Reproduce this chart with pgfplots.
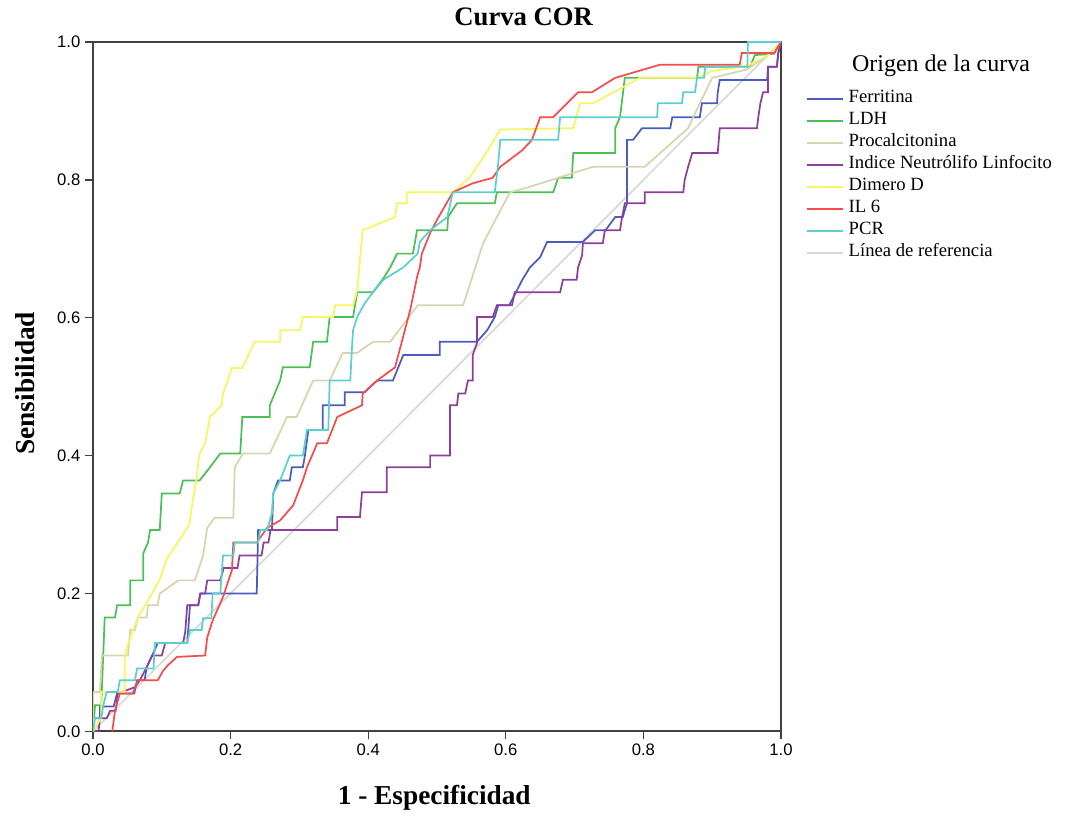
\documentclass[border=0pt]{standalone}
\usepackage{fontspec}
\setmainfont{Liberation Serif}
\newfontfamily\ticksans{Liberation Sans}
\usepackage{pgfplots}
\pgfplotsset{compat=1.18}
\usetikzlibrary{calc}

\definecolor{cFer}{HTML}{4A5CBF}
\definecolor{cLDH}{HTML}{4CBF56}
\definecolor{cPCT}{HTML}{D8D4AE}
\definecolor{cINL}{HTML}{8E3F9C}
\definecolor{cDim}{HTML}{F7F560}
\definecolor{cIL}{HTML}{F84C4C}
\definecolor{cPCR}{HTML}{5CCFCF}
\definecolor{cRef}{HTML}{D9D9D9}

\begin{document}
\begin{tikzpicture}
\begin{axis}[
    name=ax,
    width=516pt, height=517pt,
    scale only axis,
    xmin=0, xmax=1, ymin=0, ymax=1,
    xtick={0,0.2,0.4,0.6,0.8,1},
    ytick={0,0.2,0.4,0.6,0.8,1},
    xticklabel style={/pgf/number format/.cd,fixed,fixed zerofill,precision=1},
    yticklabel style={/pgf/number format/.cd,fixed,fixed zerofill,precision=1},
    /pgf/number format/assume math mode=true,
    ticklabel style={font=\ticksans\fontsize{12.5}{14}\selectfont},
    tick align=outside,
    tick pos=left,
    major tick length=6pt,
    tick style={line width=1pt, color=black!75},
    axis line style={line width=1.4pt, color=black!75},
    title={Curva COR},
    title style={font=\bfseries\fontsize{20}{24}\selectfont, at={(axis description cs:0.626,1)},
        anchor=base, yshift=6pt, inner sep=0pt},
    xlabel={1 - Especificidad},
    xlabel style={font=\bfseries\fontsize{20.5}{24}\selectfont, at={(axis description cs:0.496,-0.097)}, anchor=center},
    ylabel={Sensibilidad},
    ylabel style={font=\bfseries\fontsize{20.5}{24}\selectfont, at={(axis description cs:-0.099,0.505)}, anchor=center},
    legend style={at={(axis description cs:1.036,0.934)}, anchor=north west, draw=none, fill=none,
        font=\fontsize{14}{16.5}\selectfont, row sep=0pt, inner sep=0pt,
        nodes={inner sep=0pt, text height=11pt, text depth=5.5pt},
        /tikz/every odd column/.append style={column sep=3.5pt}},
    legend cell align=left,
    legend image code/.code={\draw[#1, line width=1.5pt] (0pt,0pt) -- (27pt,0pt);},
    every axis plot/.append style={line width=1.3pt},
]
% reference line drawn first, below the curves
\addplot[cRef, forget plot] coordinates {(0,0) (1,1)};

\addplot[cFer] coordinates {
(0,0) (0,0.019) (0.01,0.019) (0.01,0.036) (0.03,0.036) (0.035,0.055) (0.06,0.055)
(0.064,0.074) (0.075,0.074) (0.078,0.093) (0.086,0.11) (0.094,0.128) (0.137,0.128)
(0.141,0.183) (0.153,0.183) (0.156,0.2) (0.238,0.2) (0.24,0.292) (0.26,0.292)
(0.262,0.345) (0.269,0.364) (0.286,0.364) (0.289,0.383) (0.305,0.383) (0.308,0.4)
(0.313,0.437) (0.334,0.437) (0.334,0.473) (0.366,0.473) (0.366,0.492) (0.395,0.492)
(0.413,0.509) (0.436,0.509) (0.451,0.546) (0.504,0.546) (0.504,0.565) (0.558,0.565)
(0.573,0.582) (0.584,0.601) (0.589,0.618) (0.605,0.618) (0.624,0.655) (0.635,0.673)
(0.65,0.688) (0.66,0.71) (0.712,0.71) (0.73,0.727) (0.745,0.727) (0.759,0.746)
(0.77,0.746) (0.776,0.766) (0.776,0.858) (0.785,0.858) (0.798,0.875) (0.839,0.875)
(0.842,0.891) (0.882,0.891) (0.885,0.911) (0.907,0.911) (0.908,0.927) (0.911,0.945)
(0.98,0.945) (0.981,0.964) (0.994,0.964) (0.996,0.984) (1,1)
};
\addlegendentry{Ferritina}

\addplot[cLDH] coordinates {
(0,0) (0.003,0.038) (0.012,0.038) (0.017,0.165) (0.032,0.165) (0.035,0.183) (0.054,0.183)
(0.054,0.219) (0.073,0.219) (0.073,0.258) (0.08,0.274) (0.083,0.292) (0.097,0.292)
(0.1,0.345) (0.126,0.345) (0.131,0.364) (0.155,0.364) (0.17,0.383) (0.185,0.403)
(0.214,0.403) (0.217,0.456) (0.257,0.456) (0.257,0.473) (0.272,0.509) (0.276,0.528)
(0.315,0.528) (0.32,0.565) (0.34,0.565) (0.344,0.601) (0.378,0.601) (0.384,0.637)
(0.407,0.637) (0.422,0.657) (0.432,0.673) (0.442,0.693) (0.465,0.693) (0.471,0.727)
(0.515,0.727) (0.516,0.746) (0.529,0.766) (0.584,0.766) (0.587,0.782) (0.669,0.782)
(0.676,0.803) (0.696,0.803) (0.698,0.839) (0.759,0.839) (0.759,0.875) (0.766,0.891)
(0.773,0.948) (0.878,0.948) (0.88,0.964) (0.955,0.964) (0.962,0.981) (0.99,0.983) (1,1)
};
\addlegendentry{LDH}

\addplot[cPCT] coordinates {
(0,0) (0,0.057) (0.01,0.057) (0.013,0.11) (0.051,0.11) (0.054,0.147) (0.061,0.147)
(0.065,0.165) (0.078,0.165) (0.08,0.183) (0.094,0.183) (0.097,0.2) (0.124,0.219)
(0.148,0.219) (0.16,0.255) (0.166,0.295) (0.177,0.31) (0.204,0.31) (0.206,0.383)
(0.218,0.403) (0.257,0.403) (0.282,0.456) (0.296,0.456) (0.32,0.509) (0.344,0.509)
(0.363,0.549) (0.384,0.549) (0.407,0.565) (0.432,0.565) (0.472,0.618) (0.538,0.618)
(0.567,0.708) (0.606,0.782) (0.635,0.79) (0.727,0.819) (0.802,0.819) (0.865,0.875)
(0.882,0.911) (0.9,0.948) (0.95,0.96) (0.98,0.98) (1,1)
};
\addlegendentry{Procalcitonina}

\addplot[cINL] coordinates {
(0,0) (0.008,0) (0.01,0.019) (0.02,0.019) (0.025,0.03) (0.033,0.03) (0.036,0.055)
(0.061,0.064) (0.068,0.074) (0.078,0.093) (0.086,0.11) (0.1,0.11) (0.105,0.128)
(0.131,0.128) (0.134,0.144) (0.137,0.183) (0.153,0.183) (0.156,0.2) (0.163,0.2)
(0.166,0.219) (0.185,0.219) (0.19,0.237) (0.21,0.237) (0.213,0.255) (0.245,0.255)
(0.248,0.274) (0.255,0.274) (0.258,0.292) (0.355,0.292) (0.355,0.311) (0.388,0.311)
(0.391,0.347) (0.427,0.347) (0.427,0.383) (0.49,0.383) (0.49,0.4) (0.519,0.4)
(0.519,0.473) (0.529,0.473) (0.531,0.49) (0.541,0.49) (0.545,0.509) (0.552,0.509)
(0.552,0.546) (0.558,0.563) (0.558,0.601) (0.581,0.601) (0.587,0.618) (0.609,0.618)
(0.613,0.637) (0.679,0.637) (0.683,0.655) (0.703,0.655) (0.705,0.673) (0.711,0.691)
(0.712,0.708) (0.741,0.708) (0.744,0.727) (0.766,0.727) (0.769,0.746) (0.773,0.766)
(0.802,0.766) (0.802,0.782) (0.858,0.782) (0.86,0.8) (0.865,0.819) (0.871,0.839)
(0.908,0.839) (0.911,0.875) (0.965,0.875) (0.967,0.891) (0.97,0.911) (0.974,0.927)
(0.981,0.927) (0.981,0.964) (0.994,0.964) (0.996,0.984) (1,1)
};
\addlegendentry{Indice Neutrólifo Linfocito}

\addplot[cDim] coordinates {
(0,0) (0.012,0.02) (0.012,0.057) (0.046,0.057) (0.046,0.11) (0.057,0.144) (0.065,0.165)
(0.083,0.195) (0.097,0.22) (0.107,0.25) (0.124,0.275) (0.14,0.3) (0.145,0.335)
(0.15,0.364) (0.155,0.403) (0.163,0.418) (0.17,0.456) (0.187,0.473) (0.189,0.49)
(0.202,0.527) (0.217,0.527) (0.235,0.565) (0.272,0.565) (0.272,0.582) (0.301,0.582)
(0.305,0.601) (0.349,0.601) (0.352,0.618) (0.378,0.618) (0.384,0.64) (0.392,0.727)
(0.439,0.746) (0.442,0.766) (0.456,0.766) (0.456,0.782) (0.523,0.782) (0.548,0.804)
(0.574,0.843) (0.592,0.873) (0.698,0.875) (0.708,0.911) (0.727,0.911) (0.795,0.948)
(0.878,0.948) (0.9,0.958) (0.95,0.965) (0.98,0.98) (1,1)
};
\addlegendentry{Dimero D}

\addplot[cIL] coordinates {
(0.028,0) (0.032,0.03) (0.039,0.055) (0.058,0.055) (0.065,0.074) (0.094,0.074)
(0.102,0.088) (0.109,0.096) (0.122,0.108) (0.163,0.11) (0.166,0.136) (0.174,0.161)
(0.189,0.195) (0.202,0.234) (0.204,0.274) (0.238,0.274) (0.253,0.295) (0.272,0.306)
(0.291,0.328) (0.305,0.364) (0.311,0.383) (0.326,0.418) (0.34,0.418) (0.355,0.456)
(0.391,0.473) (0.392,0.49) (0.413,0.509) (0.439,0.528) (0.461,0.611) (0.471,0.659)
(0.475,0.673) (0.478,0.693) (0.49,0.723) (0.5,0.742) (0.523,0.782) (0.552,0.795)
(0.581,0.803) (0.592,0.819) (0.624,0.843) (0.638,0.858) (0.65,0.891) (0.669,0.891)
(0.705,0.927) (0.725,0.927) (0.759,0.948) (0.824,0.967) (0.94,0.967) (0.943,0.984)
(0.99,0.984) (1,1)
};
\addlegendentry{IL 6}

\addplot[cPCR] coordinates {
(0,0) (0.003,0.019) (0.012,0.019) (0.015,0.038) (0.02,0.057) (0.036,0.057) (0.039,0.074)
(0.061,0.074) (0.064,0.091) (0.088,0.091) (0.09,0.128) (0.137,0.128) (0.141,0.147)
(0.158,0.147) (0.16,0.164) (0.172,0.164) (0.174,0.2) (0.185,0.2) (0.189,0.255)
(0.204,0.255) (0.206,0.274) (0.24,0.274) (0.243,0.292) (0.253,0.292) (0.26,0.316)
(0.262,0.345) (0.272,0.364) (0.286,0.4) (0.305,0.4) (0.311,0.437) (0.342,0.437)
(0.344,0.509) (0.374,0.509) (0.376,0.549) (0.378,0.582) (0.384,0.601) (0.395,0.621)
(0.407,0.637) (0.422,0.655) (0.451,0.673) (0.472,0.693) (0.475,0.71) (0.49,0.727)
(0.515,0.746) (0.523,0.782) (0.584,0.782) (0.589,0.824) (0.592,0.858) (0.676,0.858)
(0.679,0.891) (0.82,0.891) (0.821,0.911) (0.856,0.911) (0.858,0.927) (0.875,0.927)
(0.878,0.948) (0.888,0.948) (0.89,0.964) (0.951,0.964) (0.952,1.0) (1,1)
};
\addlegendentry{PCR}

\addlegendimage{cRef}
\addlegendentry{Línea de referencia}
\end{axis}
\node[font=\fontsize{18}{21}\selectfont] at ($(ax.south west)+(636pt,499.5pt)$) {Origen de la curva};
\path ($(ax.south west)+(-69.75pt,-62.25pt)$) rectangle ($(ax.north east)+(227.25pt,31.5pt)$);
\end{tikzpicture}
\end{document}
